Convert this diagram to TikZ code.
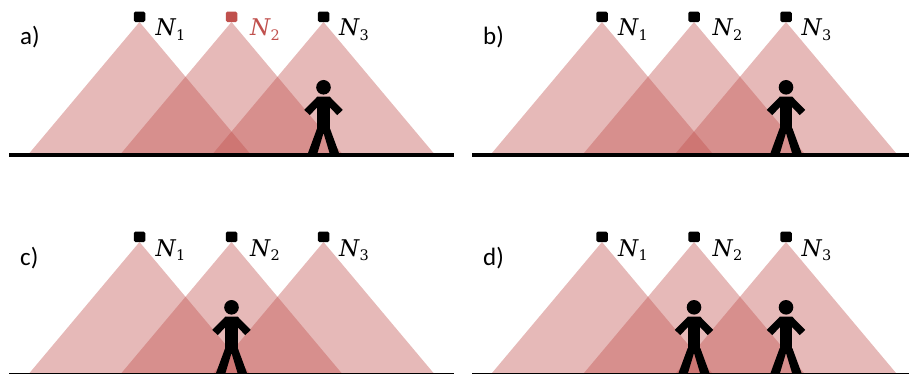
\documentclass[tikz,border=0pt]{standalone}
\usepackage{fontspec}
\setsansfont{Carlito}
\newfontfamily\nfont{DejaVu Serif}
\definecolor{coneRed}{HTML}{C0504D}
\newcommand{\sensorname}[1]{{\nfont\fontsize{23}{26}\selectfont\itshape N}\kern0.3pt\raisebox{-4.5pt}{\nfont\fontsize{14.5}{16}\selectfont #1}}
\tikzset{
  x=1pt,y=-1pt,
  cone/.style={fill=coneRed,fill opacity=0.4,draw=none},
  sensorbox/.style={rectangle,draw=none,fill=#1,minimum width=11.5pt,minimum height=10.5pt,inner sep=0pt,rounded corners=1.6pt,anchor=south},
  nlabel/.style={anchor=base west,inner sep=0pt,text=#1},
  tag/.style={anchor=base west,inner sep=0pt,font=\sffamily\fontsize{25}{28}\selectfont},
  pics/cones/.style={code={
    \foreach \cx in {139.5,231.5,323.5}{
      \fill[cone] (\cx,22) -- (\cx-110,153) -- (\cx+110,153) -- cycle;
    }
    \node[sensorbox=black] (n1) at (139.5,22.3) {};
    \node[sensorbox=#1] (n2) at (231.5,22.3) {};
    \node[sensorbox=black] (n3) at (323.5,22.3) {};
    \node[nlabel=black] (l1) at (155.5,36) {\sensorname{1}};
    \node[nlabel=#1] (l2) at (250,36) {\sensorname{2}};
    \node[nlabel=black] (l3) at (339,36) {\sensorname{3}};
  }},
  pics/walker/.style={code={
    \fill[black] (0,87.3) circle[radius=7.3];
    \fill[black] (-6.3,97) rectangle (6.3,131);
    \draw[black,line width=7.5pt] (-16.5,112.5) -- (-4.5,100.3) -- (4.5,100.3) -- (16.5,112.5);
    \fill[black] (-6.3,128) -- (6.3,128) -- (15.5,153) -- (6,153) -- (0,133) -- (-6,153) -- (-15.5,153) -- cycle;
  }},
}
\begin{document}
\begin{tikzpicture}
\useasboundingbox (0,0) rectangle (909,374);
% panel a
\pic (a) at (0,0) {cones={coneRed}};
\pic (pa) at (323.5,0) {walker};
\coordinate (ag1) at (9,155);
\coordinate (ag2) at (454,155);
\draw[black,line width=4pt] (ag1) -- (ag2);
\node[tag] (ta) at (20,45) {a)};
% panel b
\pic (b) at (462.5,0) {cones={black}};
\pic (pb) at (786,0) {walker};
\coordinate (bg1) at (472,155);
\coordinate (bg2) at (909,155);
\draw[black,line width=4pt] (bg1) -- (bg2);
\node[tag] (tb) at (483,45) {b)};
% panel c
\pic (c) at (0,220) {cones={black}};
\pic (pc) at (231.5,220) {walker};
\coordinate (cg1) at (9,373.5);
\coordinate (cg2) at (454,373.5);
\draw[black,line width=1pt] (cg1) -- (cg2);
\node[tag] (tc) at (20,265) {c)};
% panel d
\pic (d) at (462.5,220) {cones={black}};
\pic (pd1) at (694,220) {walker};
\pic (pd2) at (786,220) {walker};
\coordinate (dg1) at (472,373.5);
\coordinate (dg2) at (909,373.5);
\draw[black,line width=1pt] (dg1) -- (dg2);
\node[tag] (td) at (483,265) {d)};
\end{tikzpicture}
\end{document}
